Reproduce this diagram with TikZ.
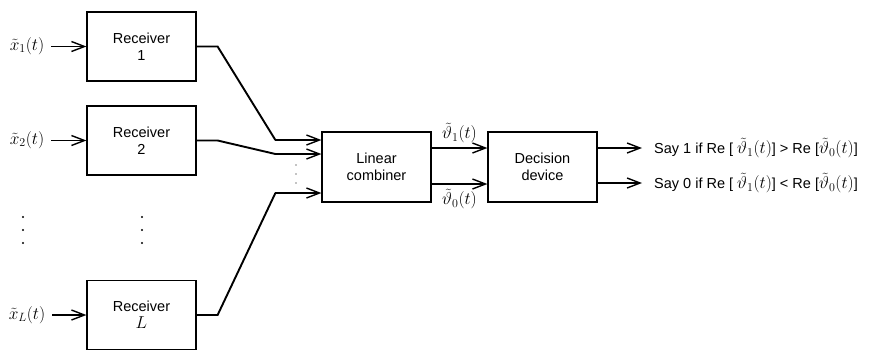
\documentclass[tikz,border=0pt]{standalone}
\usepackage{fontspec}
\setmainfont{Liberation Sans}
\usetikzlibrary{arrows.meta,positioning,calc}

\newcommand{\mathbig}[1]{{\fontsize{16.5}{18}\selectfont$#1$}}

\tikzset{
  blk/.style={draw,line width=1.2pt,minimum width=109pt,minimum height=69pt,align=center,inner sep=0pt},
  sig/.style={line width=1.9pt,-{Straight Barb[length=13pt,width=10pt,line width=1.4pt]}},
  wire/.style={line width=1.9pt},
  dotc/.style={fill=black},
  saytxt/.style={anchor=west,inner sep=0,font=\fontsize{14.5}{18}\selectfont},
  mlbl/.style={inner sep=0,font=\fontsize{16.5}{18}\selectfont},
}

\begin{document}
\begin{tikzpicture}[x=1pt,y=-1pt,font=\fontsize{14.5}{17}\selectfont]
\useasboundingbox (0,0) rectangle (872,349);

% receivers
\node[blk] (rx1) at (141.5,46.5) {Receiver\\1};
\node[blk] (rx2) at (141.5,140.5) {Receiver\\2};
\node[blk] (rxL) at (141.5,315) {Receiver\\\mathbig{L}};

% inputs
\node[mlbl] (in1) at (27,46) {$\tilde{x}_1(t)$};
\node[mlbl] (in2) at (27,140) {$\tilde{x}_2(t)$};
\node[mlbl] (inL) at (27,315) {$\tilde{x}_L(t)$};
\draw[sig] ([xshift=7pt]in1.east |- rx1) -- (rx1.west);
\draw[sig] ([xshift=7pt]in2.east |- rx2) -- (rx2.west);
\draw[sig] ([xshift=7pt]inL.east |- rxL) -- (rxL.west);

% vertical dots
\foreach \y in {217,230,243} {
  \fill[dotc] (23,\y) circle (1.1pt);
  \fill[dotc] (142,\y) circle (1.1pt);
}

% combiner and decision
\node[blk,minimum height=70pt] (comb) at (376.5,167) {Linear\\combiner};
\node[blk,minimum height=70pt] (dec) at (542.5,167) {Decision\\device};

\coordinate (c1) at ($(comb.west)+(0,-27)$);
\coordinate (c2) at ($(comb.west)+(0,-13)$);
\coordinate (cL) at ($(comb.west)+(0,26)$);
\draw[wire] (rx1.east) -- ++(21,0) -- ($(c1)+(-46,0)$);
\draw[sig] ($(c1)+(-46,0)$) -- (c1);
\draw[wire] (rx2.east) -- ++(21,0) -- ($(c2)+(-46,0)$);
\draw[sig] ($(c2)+(-46,0)$) -- (c2);
\draw[wire] (rxL.east) -- ++(21,0) -- ($(cL)+(-46,0)$);
\draw[sig] ($(cL)+(-46,0)$) -- (cL);
\foreach \y in {165,174,183}
  \fill[dotc] (296,\y) circle (0.6pt);

% combiner outputs
\draw[sig] ($(comb.east)+(0,-19)$) -- ($(dec.west)+(0,-19)$)
  node[midway,above=4pt,mlbl] (v1) {$\tilde{\vartheta}_1(t)$};
\draw[sig] ($(comb.east)+(0,17)$) -- ($(dec.west)+(0,17)$)
  node[midway,below=4pt,mlbl] (v0) {$\tilde{\vartheta}_0(t)$};

% decisions
\node[saytxt] (say1) at (654,148) {Say 1 if Re [ \mathbig{\tilde{\vartheta}_1(t)}] > Re [\mathbig{\tilde{\vartheta}_0(t)}]};
\node[saytxt] (say0) at (654,183) {Say 0 if Re [ \mathbig{\tilde{\vartheta}_1(t)}] < Re [\mathbig{\tilde{\vartheta}_0(t)}]};
\draw[sig] (dec.east |- say1.west) -- ([xshift=-12pt]say1.west);
\draw[sig] (dec.east |- say0.west) -- ([xshift=-12pt]say0.west);
\end{tikzpicture}
\end{document}
